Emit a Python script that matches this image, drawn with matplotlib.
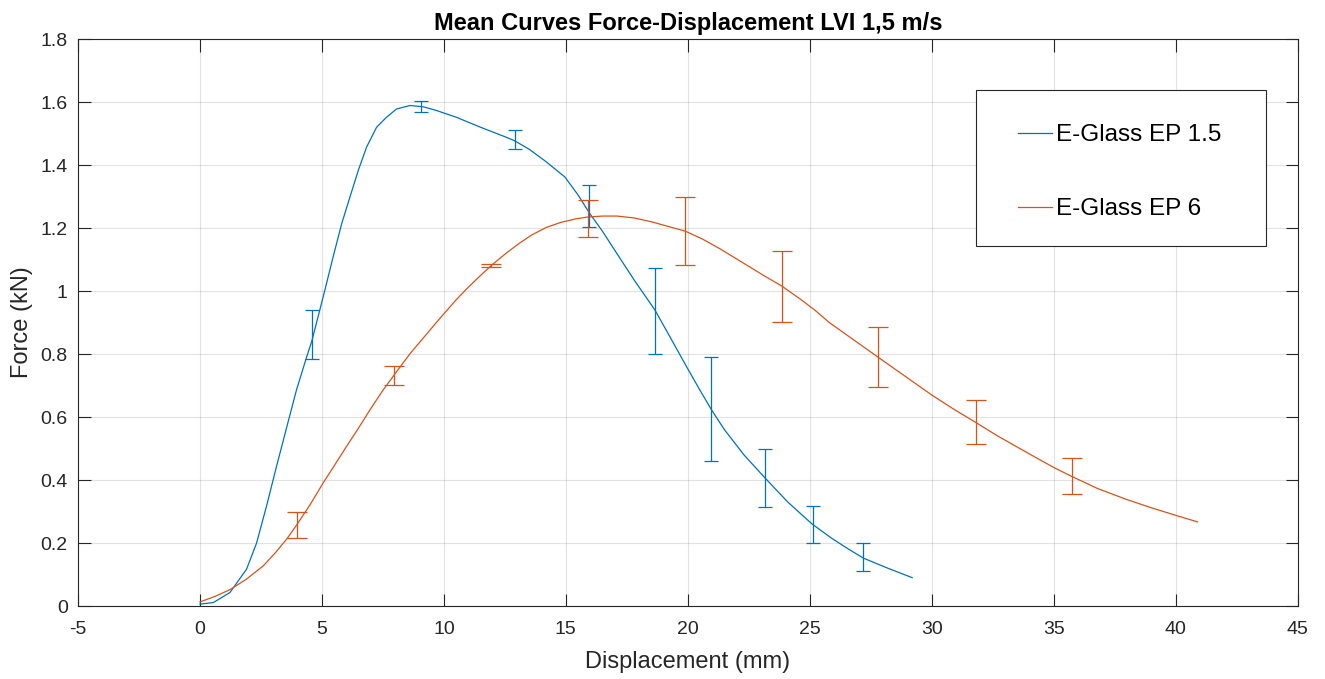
import numpy as np
import matplotlib
matplotlib.use('Agg')
import matplotlib.pyplot as plt
from matplotlib.ticker import FuncFormatter
from matplotlib.patches import Rectangle

# Mean curve E-Glass EP 1.5 (displacement mm, force kN)
disp_15 = [0.0, 0.55, 1.23, 1.91, 2.32, 2.73, 3.14, 3.55, 3.96, 4.37, 4.58, 4.78, 5.12,
           5.46, 5.81, 6.15, 6.49, 6.83, 7.24, 7.65, 8.06, 8.61, 9.15, 9.70, 10.5, 11.5,
           12.5, 12.9, 13.5, 14.2, 14.96, 15.5, 15.98, 16.5, 17.0, 17.8, 18.65, 19.3,
           20.02, 20.5, 20.97, 21.5, 22.3, 23.16, 24.1, 25.1, 25.9, 26.6, 27.2, 28.2, 29.2]
force_15 = [0.006, 0.011, 0.043, 0.117, 0.20, 0.318, 0.444, 0.566, 0.687, 0.79, 0.84,
            0.90, 1.003, 1.109, 1.214, 1.299, 1.383, 1.457, 1.520, 1.552, 1.578, 1.589,
            1.585, 1.573, 1.552, 1.52, 1.49, 1.477, 1.45, 1.41, 1.362, 1.305, 1.246,
            1.19, 1.13, 1.035, 0.94, 0.85, 0.75, 0.685, 0.623, 0.56, 0.48, 0.407, 0.33,
            0.26, 0.215, 0.18, 0.152, 0.12, 0.09]

# Mean curve E-Glass EP 6
disp_6 = [0.0, 0.6, 1.23, 1.9, 2.6, 3.1, 3.55, 3.96, 4.5, 5.06, 5.5, 6.01, 6.5, 6.97,
          7.5, 8.06, 8.6, 9.09, 9.8, 10.5, 11.0, 11.55, 12.0, 12.6, 13.1, 13.6, 14.2,
          14.8, 15.4, 15.9, 16.5, 17.1, 17.8, 18.5, 19.2, 19.9, 20.6, 21.3, 22.4, 23.1,
          23.85, 24.6, 25.2, 25.8, 26.8, 27.8, 28.9, 30.0, 30.9, 31.8, 32.7, 33.5, 34.3,
          35.0, 35.7, 36.8, 38.0, 39.0, 40.0, 40.9]
force_6 = [0.013, 0.03, 0.052, 0.085, 0.128, 0.17, 0.212, 0.257, 0.32, 0.392, 0.445,
           0.507, 0.565, 0.623, 0.685, 0.744, 0.80, 0.845, 0.91, 0.972, 1.012, 1.053,
           1.085, 1.123, 1.152, 1.178, 1.202, 1.218, 1.229, 1.235, 1.238, 1.238, 1.232,
           1.22, 1.205, 1.19, 1.165, 1.135, 1.083, 1.05, 1.016, 0.975, 0.94, 0.90,
           0.845, 0.79, 0.73, 0.67, 0.625, 0.583, 0.54, 0.505, 0.47, 0.44, 0.413,
           0.373, 0.338, 0.312, 0.288, 0.267]

# Error bars (mean +/- err)
eb_x_15 = [4.6, 9.08, 12.9, 15.95, 18.65, 20.95, 23.15, 25.15, 27.2]
eb_y_15 = [0.862, 1.586, 1.48, 1.27, 0.937, 0.625, 0.407, 0.258, 0.155]
eb_e_15 = [0.078, 0.017, 0.03, 0.067, 0.137, 0.165, 0.092, 0.058, 0.045]

eb_x_6 = [3.96, 7.95, 11.95, 15.9, 19.9, 23.85, 27.8, 31.8, 35.75]
eb_y_6 = [0.257, 0.732, 1.08, 1.23, 1.19, 1.015, 0.79, 0.583, 0.413]
eb_e_6 = [0.04, 0.029, 0.005, 0.06, 0.108, 0.113, 0.095, 0.07, 0.056]

blue = '#0072BD'
orange = '#D95319'
dark = '#262626'

plt.rcParams['font.family'] = ['Liberation Sans', 'DejaVu Sans']
plt.rcParams['axes.unicode_minus'] = False

fig = plt.figure(figsize=(13.25, 6.79), dpi=100)
ax = fig.add_axes([0.0589, 0.1075, 0.9204, 0.835])

ax.plot(disp_15, force_15, color=blue, lw=0.9, label='E-Glass EP 1.5')
ax.plot(disp_6, force_6, color=orange, lw=0.9, label='E-Glass EP 6')
ax.errorbar(eb_x_15, eb_y_15, yerr=eb_e_15, fmt='none', ecolor=blue, elinewidth=0.9,
            capsize=5, capthick=0.9)
ax.errorbar(eb_x_6, eb_y_6, yerr=eb_e_6, fmt='none', ecolor=orange, elinewidth=0.9,
            capsize=7, capthick=0.9)

ax.set_xlim(-5, 45)
ax.set_ylim(0, 1.8)
ax.set_xticks(np.arange(-5, 46, 5))
ax.set_yticks(np.arange(0, 1.81, 0.2))
ax.xaxis.set_major_formatter(FuncFormatter(lambda v, p: f'{v:g}'))
ax.yaxis.set_major_formatter(FuncFormatter(lambda v, p: f'{v:g}'))
ax.grid(True, color=dark, alpha=0.13, lw=0.8)
ax.tick_params(direction='in', top=True, right=True, labelsize=14, colors=dark,
               length=9, width=0.8)
ax.tick_params(axis='x', pad=11)
ax.tick_params(axis='y', pad=7.5)
for s in ax.spines.values():
    s.set_color(dark)
    s.set_linewidth(0.8)

ax.set_xlabel('Displacement (mm)', fontsize=17, color=dark, labelpad=9)
ax.set_ylabel('Force (kN)', fontsize=17, color=dark, labelpad=5)
ax.set_title('Mean Curves Force-Displacement LVI 1,5 m/s', fontsize=17,
             fontweight='bold', color='black', pad=6.5)

# legend box like MATLAB's
ax.add_patch(Rectangle((0.736, 0.635), 0.238, 0.275, transform=ax.transAxes,
                       facecolor='white', edgecolor=dark, lw=0.8, zorder=5))
leg = ax.legend(loc='upper left', bbox_to_anchor=(0.771, 0.850), fontsize=17.5,
                frameon=False, labelspacing=2.15, borderpad=0, handlelength=1.4,
                handletextpad=0.17, borderaxespad=0)
leg.set_zorder(6)

fig.savefig('out.png', dpi=100)
